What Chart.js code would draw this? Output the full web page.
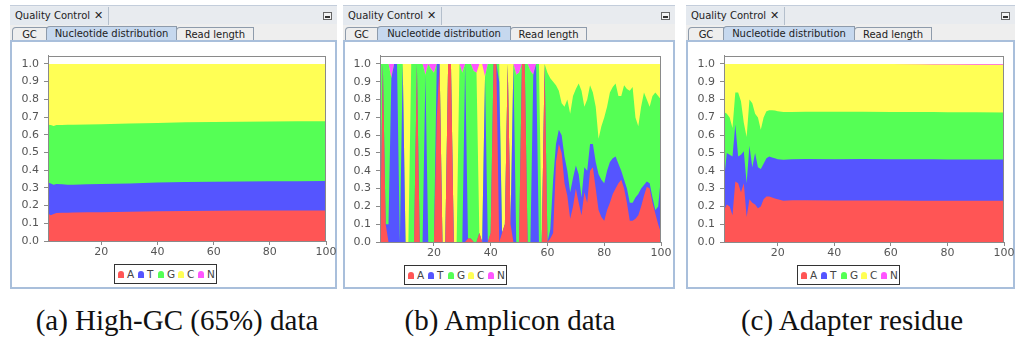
<!DOCTYPE html>
<html lang="en">
<head>
<meta charset="utf-8">
<title>Quality Control - Nucleotide distribution</title>
<script src="https://cdn.jsdelivr.net/npm/chart.js@4.4.0/dist/chart.umd.min.js"></script>
<style>
  body { margin:0; width:1020px; height:343px; background:#fff; position:relative; overflow:hidden; font-family:"DejaVu Sans", sans-serif; }
  .win { position:absolute; top:5px; height:284px; background:#eeeeee; }
  .head { position:absolute; left:0; right:0; top:0; height:18px; background:#e8ebef; border-top:1px solid #c3cddb; }
  .head .title { position:absolute; left:0; top:1px; height:18px; width:93px; padding-left:5px; border-right:1px solid #b4bfcc; font-size:10px; line-height:18px; color:#222; background:#e4e9ef; }
  .head .title b { font-size:11px; margin-left:4px; }
  .head .mini { position:absolute; right:5px; top:6px; width:7px; height:6px; border:1px solid #666; background:#f4f4f4; }
  .head .mini:after { content:""; position:absolute; left:1px; right:1px; bottom:1px; height:2px; background:#333; }
  .tab { position:absolute; top:22px; height:13px; border:1px solid #8e9bab; border-bottom:none; background:#eeeeee; font-size:10px; line-height:13px; text-align:center; color:#222; border-radius:4px 0 0 0; }
  .tab.sel { top:21px; height:14px; background:#c6d8ee; }
  .content { position:absolute; left:0; right:0; top:35px; bottom:0; background:#fff; border:2px solid #a9bfdb; box-sizing:border-box; }
  canvas { position:absolute; }
  .legend { position:absolute; height:18px; width:101px; border:1px solid #333; background:#fff; font-size:10.5px; color:#444; }
  .legend span { position:absolute; top:2px; line-height:15px; }
  .legend i { position:absolute; top:6px; width:6px; height:7px; border-radius:3px 3px 0 0; }
  .cap { position:absolute; top:304px; width:320px; text-align:center; font-family:"Liberation Serif", serif; font-size:29px; line-height:33px; color:#111; }
</style>
</head>
<body>

<div class="win" style="left:10px;width:327px">
  <div class="head"><div class="title">Quality Control<b>&#x2715;</b></div><div class="mini"></div></div>
  <div class="tab" style="left:2px;width:33px">GC</div>
  <div class="tab sel" style="left:36px;width:129px">Nucleotide distribution</div>
  <div class="tab" style="left:166px;width:76px">Read length</div>
  <div class="content"></div>
</div>
<div class="win" style="left:343px;width:332px">
  <div class="head"><div class="title">Quality Control<b>&#x2715;</b></div><div class="mini"></div></div>
  <div class="tab" style="left:2px;width:31px">GC</div>
  <div class="tab sel" style="left:34px;width:132px">Nucleotide distribution</div>
  <div class="tab" style="left:167px;width:75px">Read length</div>
  <div class="content"></div>
</div>
<div class="win" style="left:686px;width:329px">
  <div class="head"><div class="title">Quality Control<b>&#x2715;</b></div><div class="mini"></div></div>
  <div class="tab" style="left:2px;width:34px">GC</div>
  <div class="tab sel" style="left:37px;width:130px">Nucleotide distribution</div>
  <div class="tab" style="left:168px;width:76px">Read length</div>
  <div class="content"></div>
</div>

<canvas id="chartA" width="328" height="220" style="left:12px;top:44px"></canvas>
<canvas id="chartB" width="330" height="221" style="left:344px;top:44px"></canvas>
<canvas id="chartC" width="328" height="221" style="left:688px;top:44px"></canvas>

<div class="legend" id="legA" style="left:114px;top:264px"></div>
<div class="legend" id="legB" style="left:404px;top:265px"></div>
<div class="legend" id="legC" style="left:797px;top:265px"></div>

<div class="cap" style="left:17px">(a) High-GC (65%) data</div>
<div class="cap" style="left:350px">(b) Amplicon data</div>
<div class="cap" style="left:692px">(c) Adapter residue</div>

<script>
var bases = ['A', 'T', 'G', 'C', 'N']
var colors = ['#ff5555', '#5555ff', '#55ff55', '#ffff55', '#ff55ff']
var xTicks = [20, 40, 60, 80, 100]
var yTicks = [0, 0.1, 0.2, 0.3, 0.4, 0.5, 0.6, 0.7, 0.8, 0.9, 1.0]

// (a) high GC
var posHighGC = [1,2,3,4,6,8,10,15,20,30,40,50,60,70,80,90,100]
var highGC_A = [0.155,0.145,0.152,0.158,0.160,0.160,0.161,0.162,0.163,0.165,0.168,0.170,0.171,0.172,0.172,0.172,0.172]
var highGC_T = [0.175,0.180,0.166,0.164,0.160,0.158,0.157,0.158,0.159,0.160,0.162,0.163,0.164,0.164,0.165,0.166,0.167]
var highGC_G = [0.327,0.330,0.332,0.333,0.335,0.338,0.339,0.338,0.338,0.339,0.337,0.337,0.337,0.338,0.338,0.338,0.337]
var highGC_C = [0.343,0.345,0.350,0.345,0.345,0.344,0.343,0.342,0.340,0.336,0.333,0.330,0.328,0.326,0.325,0.324,0.324]
var highGC_N = [0,0,0,0,0,0,0,0,0,0,0,0,0,0,0,0,0]

// (b) amplicon, positions 1..100
var posAmplicon = [1,2,3,4,5,6,7,8,9,10,11,12,13,14,15,16,17,18,19,20,21,22,23,24,25,26,27,28,29,30,
  31,32,33,34,35,36,37,38,39,40,41,42,43,44,45,46,47,48,49,50,51,52,53,54,55,56,57,58,59,60,
  61,62,63,64,65,66,67,68,69,70,71,72,73,74,75,76,77,78,79,80,81,82,83,84,85,86,87,88,89,90,
  91,92,93,94,95,96,97,98,99,100]
var amp_A = [0,1,0.1,0,0,0,0,0,0,0, 0,0,0,1,0,0,0,0,0,0, 0.7,1,0,0,1,1,0,0,0,0,
  0,0.02,0.02,0,0,0.05,0,0,0,0.05, 1,1,0,0.05,0.1,1,0.1,0,0,0, 1,1,0,0,0,0,0,0,1,0,
  0.02,0.05,0.45,0.55,0.50,0.33,0.26,0.13,0.20,0.30, 0.22,0.15,0.28,0.22,0.40,0.42,0.30,0.18,0.14,0.12,
  0.18,0.22,0.27,0.30,0.33,0.35,0.30,0.22,0.12,0.12, 0.13,0.15,0.20,0.26,0.31,0.30,0.22,0.16,0.10,0.05]
var amp_T = [0,0,0,0.1,0.92,1,1,0,1,0, 0,0,0,0,0,0,0.94,0,0,0, 0.3,0,0,0,0,0,0,0,0,0,
  1,0,0,0,0,0,0,0.93,0,0, 0,0,0.9,0,0,0,0,1,0,0, 0,0,0,0,0.94,1,0,0,0,0,
  0.05,0.30,0.10,0.08,0.10,0.15,0.14,0.15,0.16,0.13, 0.16,0.10,0.14,0.18,0.15,0.13,0.15,0.20,0.21,0.21,
  0.22,0.23,0.20,0.18,0.11,0.05,0.05,0.08,0.10,0.10, 0.12,0.12,0.10,0.06,0.03,0.03,0.03,0.02,0.10,0.32]
var amp_G = [1,0,0.9,0.9,0,0,0,1,0,0, 0,1,1,0,1,1,0,1,0.97,0.95, 0,0,0,0,0,0,0,0,1,0.95,
  0,0.98,0.98,0.96,0.95,0,0,0,1,0.95, 0,0,0.1,0,0,0,0,0,0.94,0.95, 0,0,1,0.96,0,0,1,0,0,0.95,
  0.85,0.55,0.33,0.22,0.18,0.28,0.40,0.44,0.46,0.43, 0.51,0.60,0.34,0.40,0.33,0.29,0.31,0.20,0.30,0.37,
  0.36,0.39,0.40,0.41,0.38,0.42,0.53,0.56,0.63,0.65, 0.45,0.38,0.46,0.52,0.46,0.43,0.57,0.66,0.62,0.43]
var amp_C = [0,0,0,0,0,0,0,0,0,1, 1,0,0,0,0,0,0,0,0,0, 0,0,1,1,0,0,1,1,0,0,
  0,0,0,0,0,0.95,1,0,0,0, 0,0,0,0.95,0.9,0,0.9,0,0,0, 0,0,0,0,0,0,0,1,0,0.05,
  0.08,0.10,0.12,0.15,0.22,0.24,0.20,0.28,0.18,0.14, 0.11,0.15,0.24,0.20,0.12,0.16,0.24,0.42,0.35,0.30,
  0.24,0.16,0.13,0.11,0.18,0.18,0.12,0.14,0.15,0.13, 0.30,0.35,0.24,0.16,0.20,0.24,0.18,0.16,0.18,0.20]
var amp_N = [0,0,0,0,0.08,0,0,0,0,0, 0,0,0,0,0,0,0.06,0,0.03,0.05, 0,0,0,0,0,0,0,0,0,0.05,
  0,0,0,0.04,0.05,0,0,0.07,0,0, 0,0,0,0,0,0,0,0,0.06,0.05, 0,0,0,0.04,0.06,0,0,0,0,0,
  0,0,0,0,0,0,0,0,0,0, 0,0,0,0,0,0,0,0,0,0,
  0,0,0,0,0,0,0,0,0,0, 0,0,0,0,0,0,0,0,0,0]

// (c) adapter residue
var posAdapter = [1,2,3,4,5,6,7,8,9,10,11,12,13,14,15,16,17,18,19,20,22,25,30,40,50,60,70,75,80,90,100]
var adapt_A = [0.18,0.21,0.20,0.15,0.34,0.33,0.28,0.33,0.14,0.24,0.22,0.21,0.19,0.20,0.24,0.255,0.255,0.25,0.245,0.24,0.232,0.234,0.234,0.233,0.233,0.233,0.232,0.232,0.232,0.232,0.232]
var adapt_T = [0.17,0.29,0.29,0.33,0.32,0.15,0.21,0.18,0.19,0.30,0.20,0.29,0.23,0.21,0.20,0.215,0.225,0.225,0.225,0.225,0.23,0.231,0.232,0.232,0.233,0.232,0.233,0.233,0.232,0.232,0.232]
var adapt_G = [0.38,0.22,0.21,0.16,0.18,0.36,0.30,0.16,0.26,0.26,0.36,0.22,0.28,0.22,0.26,0.265,0.26,0.265,0.268,0.27,0.268,0.265,0.265,0.267,0.265,0.265,0.265,0.265,0.265,0.265,0.264]
var adapt_C = [0.27,0.28,0.30,0.36,0.16,0.16,0.21,0.33,0.41,0.20,0.22,0.28,0.30,0.37,0.30,0.265,0.26,0.26,0.262,0.265,0.27,0.27,0.269,0.268,0.269,0.27,0.268,0.267,0.268,0.267,0.268]
var adapt_N = [0,0,0,0,0,0,0,0,0,0,0,0,0,0,0,0,0,0,0,0,0,0,0,0,0,0,0.002,0.003,0.003,0.004,0.004]

// draws the grey box round the plot
var frame = {
  id: 'frame',
  afterDraw: function(chart) {
    var a = chart.chartArea, ctx = chart.ctx
    ctx.save()
    ctx.strokeStyle = '#8a8a8a'
    ctx.lineWidth = 1
    ctx.strokeRect(Math.round(a.left) + 0.5, Math.round(a.top) + 0.5, Math.round(a.width) - 1, Math.round(a.height))
    ctx.restore()
  }
}

function makeChart(id, positions, series, pad) {
  var datasets = bases.map(function(b, i) {
    return {
      label: b,
      data: positions.map(function(x, j) { return { x: x, y: series[i][j] } }),
      backgroundColor: colors[i],
      borderColor: colors[i],
      borderWidth: 0,
      pointRadius: 0,
      tension: 0,
      fill: 'origin'
    }
  })
  var tickFont = { family: 'DejaVu Sans', size: 11 }
  return new Chart(document.getElementById(id), {
    type: 'line',
    data: { datasets: datasets },
    plugins: [frame],
    options: {
      responsive: false,
      animation: false,
      events: [],
      layout: { padding: { top: pad.top, right: pad.right, left: 0, bottom: 0 } },
      plugins: { legend: { display: false }, tooltip: { enabled: false } },
      scales: {
        x: {
          type: 'linear', min: 1, max: 100,
          afterBuildTicks: function(s) { s.ticks = xTicks.map(function(v) { return { value: v } }) },
          afterFit: function(s) { s.height = 23 },
          grid: { drawOnChartArea: false, tickLength: 4, color: '#8a8a8a' },
          border: { color: '#8a8a8a' },
          ticks: { font: tickFont, color: '#555', padding: 1, maxRotation: 0 }
        },
        y: {
          stacked: true, min: 0, max: 1.047,
          afterBuildTicks: function(s) { s.ticks = yTicks.map(function(v) { return { value: v } }) },
          afterFit: function(s) { s.width = 36 },
          grid: { drawOnChartArea: false, tickLength: 4, color: '#8a8a8a' },
          border: { color: '#8a8a8a' },
          ticks: { font: tickFont, color: '#555', padding: 5, callback: function(v) { return v.toFixed(1) } }
        }
      }
    }
  })
}

makeChart('chartA', posHighGC, [highGC_A, highGC_T, highGC_G, highGC_C, highGC_N], { top: 9, right: 14 })
makeChart('chartB', posAmplicon, [amp_A, amp_T, amp_G, amp_C, amp_N], { top: 9, right: 13 })
makeChart('chartC', posAdapter, [adapt_A, adapt_T, adapt_G, adapt_C, adapt_N], { top: 10, right: 12 })

// legend boxes under each plot
;['legA', 'legB', 'legC'].forEach(function(id) {
  var box = document.getElementById(id)
  bases.forEach(function(b, i) {
    var mark = document.createElement('i')
    mark.style.left = (3 + i * 20) + 'px'
    mark.style.background = colors[i]
    box.appendChild(mark)
    var t = document.createElement('span')
    t.style.left = (12 + i * 20) + 'px'
    t.textContent = b
    box.appendChild(t)
  })
})
</script>
</body>
</html>
